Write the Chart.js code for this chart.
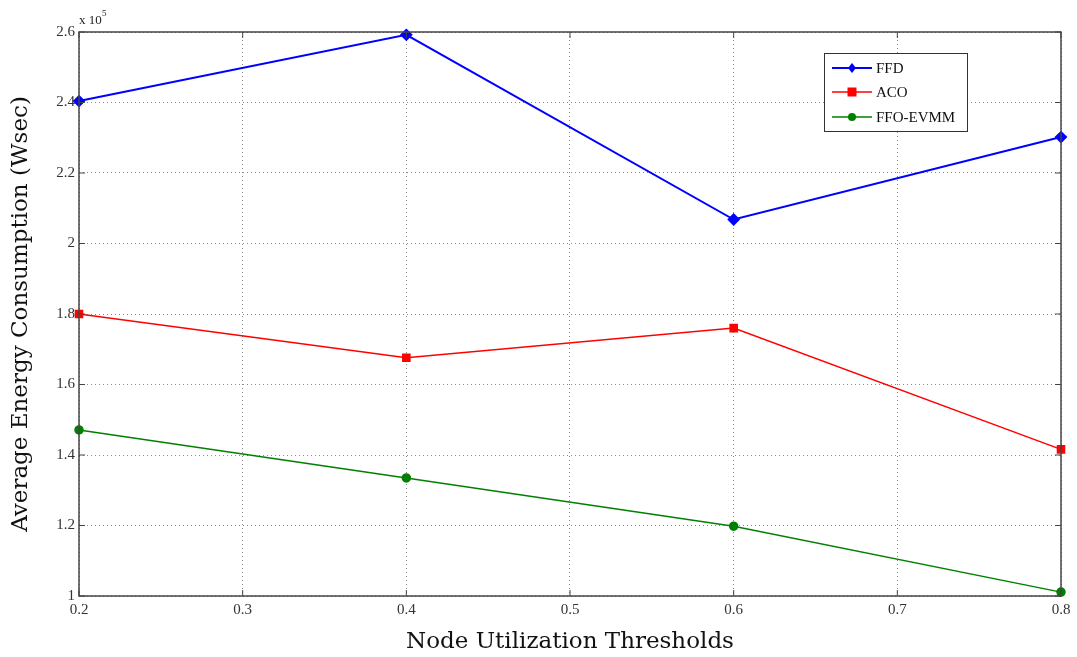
<!DOCTYPE html>
<html>
<head>
<meta charset="utf-8">
<script src="https://cdn.jsdelivr.net/npm/chart.js@4"></script>
<style>
  html, body { margin: 0; padding: 0; background: #fff; }
  #wrap { width: 1077px; height: 657px; position: relative; }
</style>
</head>
<body>
<div id="wrap"><canvas id="energyChart"></canvas></div>
<script>
// values in units of 10^5 Wsec
const thresholds = [0.2, 0.4, 0.6, 0.8];
const ffdValues = [2.404, 2.592, 2.068, 2.302];
const acoValues = [1.800, 1.676, 1.760, 1.416];
const ffoEvmmValues = [1.471, 1.335, 1.198, 1.011];
const seriesNames = ["FFD", "ACO", "FFO-EVMM"];
const xTickLabels = ["0.2", "0.3", "0.4", "0.5", "0.6", "0.7", "0.8"];
const yTickLabels = ["1", "1.2", "1.4", "1.6", "1.8", "2", "2.2", "2.4", "2.6"];

const tickFont = { family: "Liberation Serif", size: 15 };
const titleFont = { family: "DejaVu Serif", size: 23 };

function toPoints(vals) {
  return thresholds.map(function (x, i) {
    return { x: x, y: vals[i] };
  });
}

// frame, inward ticks, exponent label and legend box
const frameAndLegend = {
  id: "frameAndLegend",
  afterDraw: function (chart) {
    const ctx = chart.ctx;
    const a = chart.chartArea;
    const xs = chart.scales.x;
    const ys = chart.scales.y;
    ctx.save();
    ctx.strokeStyle = "#444";
    ctx.lineWidth = 1.5;
    ctx.strokeRect(a.left, a.top, a.right - a.left, a.bottom - a.top);

    ctx.lineWidth = 1;
    ctx.beginPath();
    xTickLabels.forEach(function (t) {
      const px = xs.getPixelForValue(parseFloat(t));
      ctx.moveTo(px, a.bottom); ctx.lineTo(px, a.bottom - 6);
      ctx.moveTo(px, a.top); ctx.lineTo(px, a.top + 6);
    });
    yTickLabels.forEach(function (t) {
      const py = ys.getPixelForValue(parseFloat(t));
      ctx.moveTo(a.left, py); ctx.lineTo(a.left + 6, py);
      ctx.moveTo(a.right, py); ctx.lineTo(a.right - 6, py);
    });
    ctx.stroke();

    // x 10^5
    ctx.fillStyle = "#222";
    ctx.font = "13px 'Liberation Serif'";
    ctx.textBaseline = "alphabetic";
    ctx.textAlign = "left";
    ctx.fillText("x 10", a.left, a.top - 8);
    ctx.font = "9px 'Liberation Serif'";
    ctx.fillText("5", a.left + 23, a.top - 16);

    // legend
    const lx = 824, ly = 53, lw = 143, lh = 78;
    ctx.fillStyle = "#fff";
    ctx.fillRect(lx, ly, lw, lh);
    ctx.strokeStyle = "#333";
    ctx.lineWidth = 1;
    ctx.strokeRect(lx + 0.5, ly + 0.5, lw, lh);
    const rows = [68, 92, 117];
    chart.data.datasets.forEach(function (ds, i) {
      const y = rows[i];
      ctx.strokeStyle = ds.borderColor;
      ctx.lineWidth = ds.borderWidth;
      ctx.beginPath();
      ctx.moveTo(832, y); ctx.lineTo(872, y);
      ctx.stroke();
      ctx.fillStyle = ds.borderColor;
      ctx.beginPath();
      if (ds.pointStyle === "rectRot") {
        ctx.moveTo(852, y - 5); ctx.lineTo(856, y); ctx.lineTo(852, y + 5); ctx.lineTo(848, y);
        ctx.closePath();
      } else if (ds.pointStyle === "rect") {
        ctx.rect(847.5, y - 4.5, 9, 9);
      } else {
        ctx.arc(852, y, 4, 0, Math.PI * 2);
      }
      ctx.fill();
      ctx.fillStyle = "#111";
      ctx.font = "15px 'Liberation Serif'";
      ctx.textBaseline = "middle";
      ctx.fillText(ds.label, 876, y + 1);
    });
    ctx.restore();
  }
};

const datasets = [
  {
    label: seriesNames[0],
    data: toPoints(ffdValues),
    borderColor: "#0000ff",
    backgroundColor: "#0000ff",
    borderWidth: 2,
    pointStyle: "rectRot",
    pointRadius: 5,
  },
  {
    label: seriesNames[1],
    data: toPoints(acoValues),
    borderColor: "#ff0000",
    backgroundColor: "#ff0000",
    borderWidth: 1.5,
    pointStyle: "rect",
    pointRadius: 5,
  },
  {
    label: seriesNames[2],
    data: toPoints(ffoEvmmValues),
    borderColor: "#008000",
    backgroundColor: "#008000",
    borderWidth: 1.5,
    pointStyle: "circle",
    pointRadius: 4,
  },
];

const chartConfig = {
  type: "line",
  data: { datasets: datasets },
  options: {
    responsive: true,
    maintainAspectRatio: false,
    animation: false,
    clip: false,
    layout: { padding: { top: 32, right: 16, left: 0, bottom: 0 } },
    plugins: {
      legend: { display: false },
      tooltip: { enabled: false },
    },
    elements: { line: { tension: 0 } },
    scales: {
      x: {
        type: "linear",
        min: 0.2,
        max: 0.8,
        afterBuildTicks: function (scale) {
          scale.ticks = xTickLabels.map(function (t) { return { value: parseFloat(t) }; });
        },
        afterFit: function (scale) { scale.height = 61; },
        ticks: {
          color: "#333",
          font: tickFont,
          padding: 5,
          maxRotation: 0,
          callback: function (v) { return v.toFixed(1); },
        },
        grid: { color: "#8a8a8a", lineWidth: 1, drawTicks: false },
        border: { display: false, dash: [1, 3] },
        title: {
          display: true,
          text: "Node Utilization Thresholds",
          color: "#111",
          font: titleFont,
          padding: { top: 0, bottom: 1 },
        },
      },
      y: {
        type: "linear",
        min: 1,
        max: 2.6,
        afterBuildTicks: function (scale) {
          scale.ticks = yTickLabels.map(function (t) { return { value: parseFloat(t) }; });
        },
        afterFit: function (scale) { scale.width = 79; },
        ticks: {
          color: "#333",
          font: tickFont,
          padding: 4,
          callback: function (v) { return String(+v.toFixed(1)); },
        },
        grid: { color: "#8a8a8a", lineWidth: 1, drawTicks: false },
        border: { display: false, dash: [1, 3] },
        title: {
          display: true,
          text: "Average Energy Consumption (Wsec)",
          color: "#111",
          font: titleFont,
          padding: { top: 7, bottom: 0 },
        },
      },
    },
  },
  plugins: [frameAndLegend],
};

const energyChart = new Chart(document.getElementById("energyChart"), chartConfig);
</script>
</body>
</html>
